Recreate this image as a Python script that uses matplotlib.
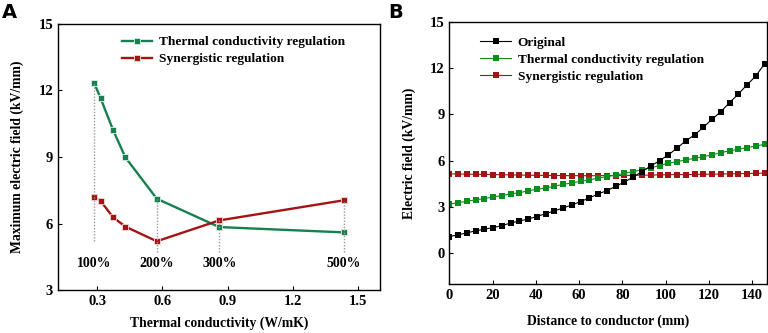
import matplotlib
matplotlib.use("Agg")
import matplotlib.pyplot as plt

# ---- Panel A data ----
cond = [0.287, 0.316, 0.373, 0.430, 0.574, 0.861, 1.435]
tc_reg = [12.32, 11.65, 10.22, 8.98, 7.12, 5.84, 5.60]
syn_reg = [7.20, 7.02, 6.28, 5.86, 5.20, 6.14, 7.05]
pct_labels = ["100%", "200%", "300%", "500%"]
pct_idx = [0, 4, 5, 6]
pct_line_bottom = [5.2, 4.7, 4.7, 4.7]

# ---- Panel B data ----
dist = [0.0, 4.05, 8.1, 12.15, 16.2, 20.25, 24.3, 28.35, 32.4, 36.45, 40.5, 44.55, 48.6,
        52.65, 56.7, 60.75, 64.8, 68.85, 72.9, 76.95, 81.0, 85.05, 89.1, 93.15, 97.2,
        101.25, 105.3, 109.35, 113.4, 117.45, 121.5, 125.55, 129.6, 133.65, 137.7, 141.75, 145.8]
original = [1.08, 1.19, 1.32, 1.45, 1.56, 1.66, 1.79, 1.96, 2.09, 2.22, 2.38, 2.57, 2.74,
            2.94, 3.13, 3.35, 3.59, 3.85, 4.06, 4.34, 4.62, 4.95, 5.29, 5.66, 6.00,
            6.38, 6.81, 7.30, 7.67, 8.17, 8.69, 9.18, 9.77, 10.33, 10.93, 11.50, 12.30]
thermal = [3.18, 3.28, 3.37, 3.46, 3.54, 3.65, 3.74, 3.85, 3.93, 4.04, 4.15, 4.23, 4.34,
           4.47, 4.56, 4.67, 4.75, 4.88, 4.97, 5.06, 5.19, 5.29, 5.42, 5.55, 5.68,
           5.84, 5.94, 6.05, 6.16, 6.27, 6.38, 6.53, 6.64, 6.74, 6.85, 6.96, 7.06]
synergistic = [5.15, 5.14, 5.13, 5.12, 5.11, 5.10, 5.09, 5.08, 5.07, 5.06, 5.05, 5.05, 5.04,
               5.04, 5.03, 5.03, 5.03, 5.03, 5.04, 5.04, 5.05, 5.05, 5.06, 5.07, 5.08,
               5.09, 5.10, 5.10, 5.11, 5.12, 5.13, 5.14, 5.15, 5.16, 5.17, 5.18, 5.20]

plt.rcParams['font.family'] = ['Liberation Serif', 'DejaVu Serif']
plt.rcParams['font.weight'] = 'bold'
plt.rcParams['axes.labelweight'] = 'bold'

GREEN_A = '#17804f'
RED = '#a31414'
GREEN_B = '#0f8c1e'

fig = plt.figure(figsize=(7.68, 3.33), dpi=100)

# ---------------- Panel A ----------------
axA = fig.add_axes([0.0755, 0.129, 0.4193, 0.799])
for i, lab, yb in zip(pct_idx, pct_labels, pct_line_bottom):
    top = max(tc_reg[i], syn_reg[i])
    axA.plot([cond[i], cond[i]], [yb, top], color='#9a9a9a', lw=1.0, ls=(0, (1, 1.2)), zorder=4)
    axA.text(cond[i], 4.2, lab, ha='center', va='center', fontsize=10, fontweight='bold')
axA.plot(cond, tc_reg, color=GREEN_A, lw=1.7, marker='s', ms=4.6, mec='#dfeee6', mew=0.6,
         label='Thermal conductivity regulation', zorder=3)
axA.plot(cond, syn_reg, color=RED, lw=1.7, marker='s', ms=4.6, mec='#f2dada', mew=0.6,
         label='Synergistic regulation', zorder=3)
axA.set_xlim(0.12, 1.6)
axA.set_ylim(3, 15)
axA.set_xticks([0.3, 0.6, 0.9, 1.2, 1.5])
axA.set_yticks([3, 6, 9, 12, 15])
axA.tick_params(direction='in', length=3, labelsize=10.5)
for t in axA.get_xticklabels() + axA.get_yticklabels():
    t.set_fontweight('bold')
axA.set_xlabel('Thermal conductivity (W/mK)', fontsize=9.8, labelpad=6)
axA.set_ylabel('Maximum electric field (kV/mm)', fontsize=9.8, labelpad=10)
axA.legend(loc='upper left', bbox_to_anchor=(0.16, 1.0), frameon=False,
           handlelength=2.3, handletextpad=0.5, labelspacing=0.35, numpoints=1,
           prop={'weight': 'bold', 'size': 9.6})
fig.text(0.003, 0.99, 'A', fontsize=14, fontweight='bold', family='DejaVu Sans', va='top')

# ---------------- Panel B ----------------
axB = fig.add_axes([0.585, 0.147, 0.414, 0.787])
axB.plot(dist, original, color='black', lw=0.8, marker='s', ms=4.6, mew=0,
         label='Original', zorder=3)
axB.plot(dist, thermal, color=GREEN_B, lw=0.8, marker='s', ms=4.6, mew=0,
         label='Thermal conductivity regulation', zorder=2)
axB.plot(dist, synergistic, color=RED, lw=0.8, marker='s', ms=4.6, mew=0,
         label='Synergistic regulation', zorder=1)
axB.set_xlim(0, 147)
axB.set_ylim(-2, 15)
axB.set_xticks([0, 20, 40, 60, 80, 100, 120, 140])
axB.set_yticks([0, 3, 6, 9, 12, 15])
axB.tick_params(direction='in', length=3, labelsize=10.5)
for t in axB.get_xticklabels() + axB.get_yticklabels():
    t.set_fontweight('bold')
axB.set_xlabel('Distance to conductor (mm)', fontsize=9.8, labelpad=9)
axB.set_ylabel('Electric field (kV/mm)', fontsize=9.8, labelpad=10)
axB.legend(loc='upper left', bbox_to_anchor=(0.06, 0.99), frameon=False,
           handlelength=2.3, handletextpad=0.5, labelspacing=0.35, numpoints=1,
           prop={'weight': 'bold', 'size': 9.6})
fig.text(0.506, 0.99, 'B', fontsize=14, fontweight='bold', family='DejaVu Sans', va='top')

for ax in (axA, axB):
    for s in ax.spines.values():
        s.set_linewidth(1.0)

fig.savefig('out.png', dpi=100)
